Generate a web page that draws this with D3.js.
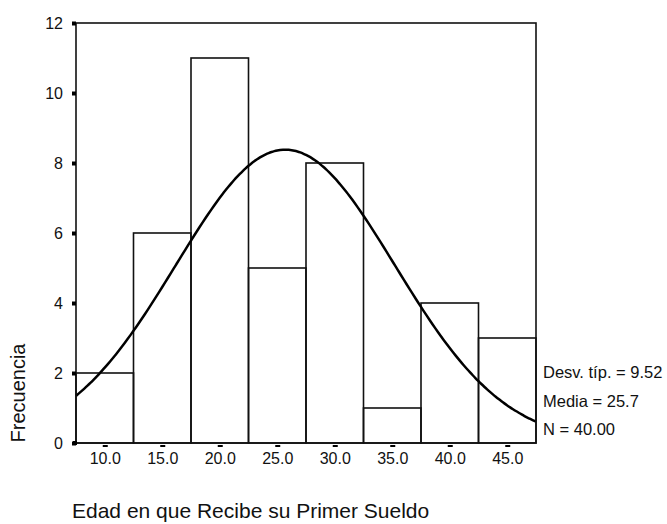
<!DOCTYPE html>
<html>
<head>
<meta charset="utf-8">
<script src="https://cdn.jsdelivr.net/npm/d3@7"></script>
<style>
  body { margin: 0; background: #fff; }
  text { font-family: Arial, "Liberation Sans", sans-serif; fill: #111; }
</style>
</head>
<body>
<script>
// Histogram of age at first salary, with fitted normal curve

var binStarts = [7.5, 12.5, 17.5, 22.5, 27.5, 32.5, 37.5, 42.5];
var counts = [2, 6, 11, 5, 8, 1, 4, 3];
var xTicks = [10, 15, 20, 25, 30, 35, 40, 45];
var yTicks = [0, 2, 4, 6, 8, 10, 12];
var BINW = 5;

// stats shown on the right
var SD = 9.52, MEAN = 25.7, N = 40;
var statLines = ["Desv. típ. = 9.52", "Media = 25.7", "N = 40.00"];

var WIDTH = 667, HEIGHT = 524;
var PLEFT = 76, PRIGHT = 536, PTOP = 23, PBOTTOM = 443;

var svg = d3.select("body").append("svg")
    .attr("width", WIDTH)
    .attr("height", HEIGHT);

var x = d3.scaleLinear().domain([7.5, 47.5]).range([PLEFT, PRIGHT]);
var y = d3.scaleLinear().domain([0, 12]).range([PBOTTOM, PTOP]);

// bars
svg.selectAll("rect.bar")
  .data(binStarts)
  .enter().append("rect")
    .attr("class", "bar")
    .attr("x", function(d) { return x(d); })
    .attr("y", function(d, i) { return y(counts[i]); })
    .attr("width", function(d) { return x(d + BINW) - x(d); })
    .attr("height", function(d, i) { return y(0) - y(counts[i]); })
    .style("fill", "none")
    .style("stroke", "#111")
    .style("stroke-width", 1.6);

// normal curve from the shown stats
var pts = d3.range(7.5, 47.51, 0.25);
var normal = function(v) {
  var z = (v - MEAN) / SD;
  return N * BINW * Math.exp(-0.5 * z * z) / (SD * Math.sqrt(2 * Math.PI));
};
var line = d3.line()
  .x(function(d) { return x(d); })
  .y(function(d) { return y(normal(d)); })
  .curve(d3.curveBasis);
svg.append("path")
  .datum(pts)
  .attr("d", line)
  .style("fill", "none")
  .style("stroke", "#000")
  .style("stroke-width", 2.5);

// frame
svg.append("rect")
  .attr("x", PLEFT).attr("y", PTOP)
  .attr("width", PRIGHT - PLEFT).attr("height", PBOTTOM - PTOP)
  .style("fill", "none")
  .style("stroke", "#111")
  .style("stroke-width", 1.6);

// y axis
var yAxis = d3.axisLeft(y).tickValues(yTicks).tickSize(0).tickPadding(13);
var gy = svg.append("g").attr("transform", "translate(" + PLEFT + ",0)").call(yAxis);
gy.select(".domain").remove();
gy.selectAll("text").style("font-size", "16px").style("font-family", "Arial, 'Liberation Sans', sans-serif");
gy.selectAll(".tick").append("rect")
  .attr("x", -4).attr("y", -2).attr("width", 4).attr("height", 4)
  .style("fill", "#000");

// x axis
var xAxis = d3.axisBottom(x).tickValues(xTicks).tickSize(0).tickPadding(10)
  .tickFormat(d3.format(".1f"));
var gx = svg.append("g").attr("transform", "translate(0," + PBOTTOM + ")").call(xAxis);
gx.select(".domain").remove();
gx.selectAll("text").style("font-size", "16px").style("font-family", "Arial, 'Liberation Sans', sans-serif");
gx.selectAll(".tick").append("rect")
  .attr("x", -2.5).attr("y", 2).attr("width", 5).attr("height", 2)
  .style("fill", "#000");
svg.append("rect").attr("x", PLEFT - 3).attr("y", PBOTTOM - 2).attr("width", 4).attr("height", 4).style("fill", "#000");

// axis titles
svg.append("text")
  .attr("transform", "translate(25,393) rotate(-90)")
  .attr("text-anchor", "middle")
  .style("font-size", "20px")
  .text("Frecuencia");

svg.append("text")
  .attr("x", 72).attr("y", 518)
  .style("font-size", "21px")
  .text("Edad en que Recibe su Primer Sueldo");

// stats
svg.selectAll("text.stat")
  .data(statLines)
  .enter().append("text")
    .attr("class", "stat")
    .attr("x", 543)
    .attr("y", function(d, i) { return 378 + i * 28.5; })
    .style("font-size", "16.5px")
    .text(function(d) { return d; });
</script>
</body>
</html>
